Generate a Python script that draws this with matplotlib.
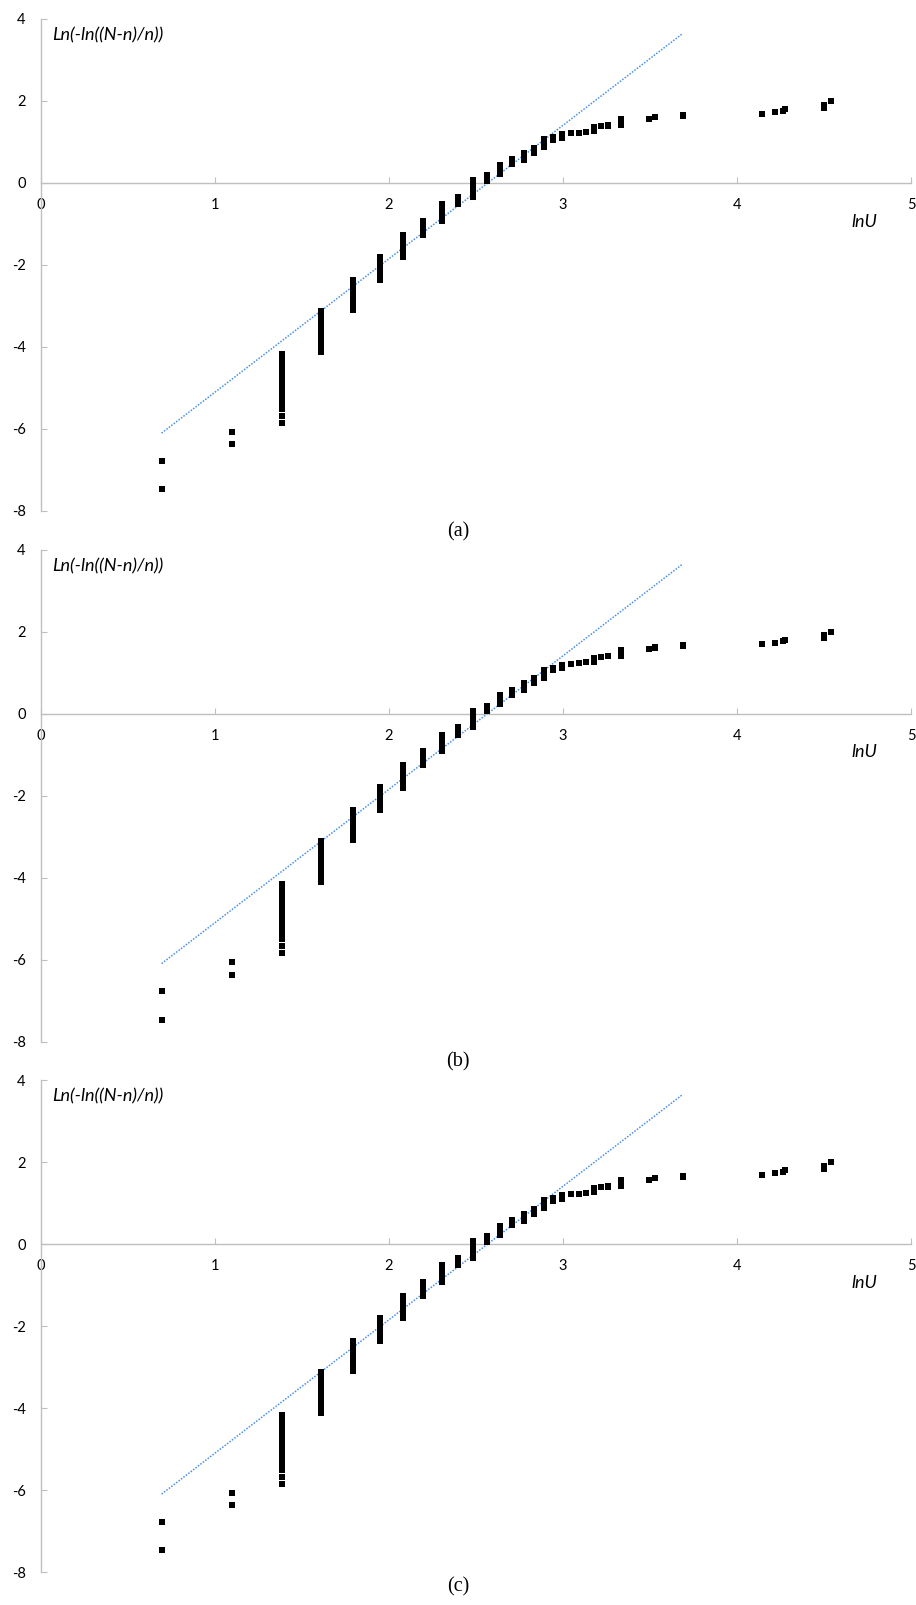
import matplotlib
matplotlib.use("Agg")
import matplotlib.pyplot as plt

# lnU for each load level, and the Ln(-ln((N-n)/n)) values observed at it
LN_U = [0.693, 1.099, 1.386, 1.609, 1.792, 1.946, 2.079, 2.197, 2.303, 2.398,
        2.485, 2.565, 2.639, 2.708, 2.773, 2.833, 2.890, 2.944, 2.996, 3.045,
        3.091, 3.135, 3.178, 3.219, 3.258, 3.332, 3.497, 3.526, 3.689, 4.143,
        4.220, 4.263, 4.277, 4.500, 4.543]

WEIBULL_Y = [
    [-6.78, -7.47],
    [-6.07, -6.37],
    [-5.85, -5.68, -5.51, -5.38, -5.26, -5.15, -5.04, -4.93, -4.82, -4.71,
     -4.60, -4.49, -4.38, -4.27, -4.16],
    [-4.12, -4.02, -3.92, -3.82, -3.72, -3.62, -3.52, -3.42, -3.32, -3.22, -3.12],
    [-3.09, -2.99, -2.89, -2.79, -2.69, -2.59, -2.49, -2.40, -2.36],
    [-2.36, -2.26, -2.16, -2.06, -1.96, -1.88, -1.80],
    [-1.81, -1.71, -1.61, -1.51, -1.41, -1.33, -1.26],
    [-1.26, -1.16, -1.06, -0.98, -0.92],
    [-0.92, -0.82, -0.72, -0.62, -0.52],
    [-0.52, -0.43, -0.34],
    [-0.34, -0.24, -0.14, -0.04, 0.07],
    [0.05, 0.12, 0.19],
    [0.22, 0.31, 0.39, 0.45],
    [0.46, 0.52, 0.58],
    [0.57, 0.66, 0.74],
    [0.74, 0.80, 0.86],
    [0.87, 0.95, 1.02, 1.07],
    [1.05, 1.11],
    [1.10, 1.15, 1.19],
    [1.215],
    [1.22, 1.23],
    [1.25],
    [1.26, 1.31, 1.36],
    [1.38, 1.39],
    [1.40, 1.41],
    [1.41, 1.48, 1.55],
    [1.57],
    [1.60, 1.615],
    [1.64, 1.67],
    [1.695],
    [1.73],
    [1.76],
    [1.80],
    [1.84, 1.875, 1.907],
    [1.995],
]

# linear fit through the lower part of the data
FIT_X = [0.693, 3.689]
FIT_Y = [-6.10, 3.65]

CAPTIONS = ["(a)", "(b)", "(c)"]

X_TICKS = [0, 1, 2, 3, 4, 5]
Y_TICKS = [-8, -6, -4, -2, 0, 2, 4]

W, H = 916, 1605
AXIS_GREY = "#BFBFBF"
FIT_BLUE = "#4A8FE7"
TICK_FONT = "Lato"

plt.rcParams["axes.unicode_minus"] = False


def draw_panel(ax):
    xs, ys = [], []
    for x, col in zip(LN_U, WEIBULL_Y):
        for y in col:
            xs.append(x)
            ys.append(y)
    ax.plot(FIT_X, FIT_Y, color=FIT_BLUE, lw=1.1, ls=(0, (1, 1)), zorder=2)
    ax.plot(xs, ys, ls="none", marker="s", ms=3.7, mew=0, color="black", zorder=3)

    ax.set_xlim(0, 5)
    ax.set_ylim(-8, 4)
    ax.set_xticks(X_TICKS)
    ax.set_yticks(Y_TICKS)
    for s in ("top", "right"):
        ax.spines[s].set_visible(False)
    ax.spines["bottom"].set_position(("data", 0))
    for s in ("left", "bottom"):
        ax.spines[s].set_color(AXIS_GREY)
        ax.spines[s].set_linewidth(1.0)
    ax.tick_params(axis="both", direction="in", length=4, width=0.8,
                   color=AXIS_GREY, labelsize=10.5)
    ax.tick_params(axis="x", pad=11)
    ax.tick_params(axis="y", pad=11)
    for lab in ax.get_xticklabels() + ax.get_yticklabels():
        lab.set_fontfamily(TICK_FONT)

    ax.text(0.063, 3.6, "Ln(-ln((N-n)/n))", style="italic", fontsize=13,
            family=TICK_FONT, ha="left", va="center")
    ax.text(4.655, -0.95, "lnU", style="italic", fontsize=13,
            family=TICK_FONT, ha="left", va="center")


fig = plt.figure(figsize=(W / 100, H / 100), dpi=100)

# pixel rows of the top (y=4) of each panel and its caption centre
panel_tops = [19, 549.5, 1080]
caption_rows = [531.5, 1062, 1587]
left, right = 41, 911
height = 492

for top, cap_row, cap in zip(panel_tops, caption_rows, CAPTIONS):
    ax = fig.add_axes([left / W, 1 - (top + height) / H, (right - left) / W, height / H])
    draw_panel(ax)
    fig.text(0.5, 1 - cap_row / H, cap, ha="center", va="center",
             family="Liberation Serif", fontsize=14.5)

fig.savefig("out.png", dpi=100)
